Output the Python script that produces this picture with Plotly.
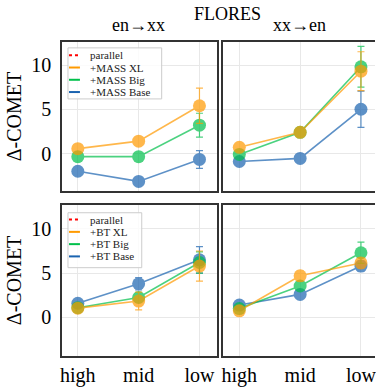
import plotly.graph_objects as go
from plotly.subplots import make_subplots

categories = ["high", "mid", "low"]

# Top row: MASS, bottom row: BT ; left: en->xx, right: xx->en
mass_en_xx_xl = [0.55, 1.4, 5.4]
mass_en_xx_xl_err = [0.3, 0.3, 2.0]
mass_en_xx_big = [-0.35, -0.35, 3.2]
mass_en_xx_big_err = [0.3, 0.3, 1.35]
mass_en_xx_base = [-2.0, -3.15, -0.67]
mass_en_xx_base_err = [0.3, 0.3, 1.0]

mass_xx_en_xl = [0.7, 2.4, 9.3]
mass_xx_en_xl_err = [0.3, 0.3, 2.2]
mass_xx_en_big = [-0.1, 2.4, 9.8]
mass_xx_en_big_err = [0.3, 0.3, 2.3]
mass_xx_en_base = [-0.9, -0.55, 5.0]
mass_xx_en_base_err = [0.3, 0.3, 2.05]

bt_en_xx_xl = [1.05, 1.85, 5.8]
bt_en_xx_xl_err = [0.3, 1.0, 1.7]
bt_en_xx_big = [1.1, 2.25, 6.2]
bt_en_xx_big_err = [0.3, 0.5, 1.2]
bt_en_xx_base = [1.6, 3.8, 6.5]
bt_en_xx_base_err = [0.3, 0.7, 1.5]

bt_xx_en_xl = [0.75, 4.7, 6.15]
bt_xx_en_xl_err = [0.3, 0.6, 0.6]
bt_xx_en_big = [1.0, 3.55, 7.3]
bt_xx_en_big_err = [0.3, 0.4, 1.2]
bt_xx_en_base = [1.4, 2.6, 5.8]
bt_xx_en_base_err = [0.3, 0.3, 0.6]

mass_names = ["+MASS XL", "+MASS Big", "+MASS Base"]
bt_names = ["+BT XL", "+BT Big", "+BT Base"]
parallel_name = "parallel"
column_titles = ["en→xx", "xx→en"]
main_title = "FLORES"
y_title = "Δ-COMET"

colors = ["#ff9a00", "#00c04b", "#1a63b0"]
red = "#ff0000"
FONT = "Liberation Serif"

W, H = 376, 387
L, R, T, B = 62, 0, 42, 25
PW, PH = W - L - R, H - T - B

def px_x(px):
    return (px - L) / PW

def px_y(py):
    return (H - B - py) / PH

fig = make_subplots(rows=2, cols=2, horizontal_spacing=0, vertical_spacing=0)

panels = {
    (1, 1): ([mass_en_xx_xl, mass_en_xx_big, mass_en_xx_base],
             [mass_en_xx_xl_err, mass_en_xx_big_err, mass_en_xx_base_err], mass_names),
    (1, 2): ([mass_xx_en_xl, mass_xx_en_big, mass_xx_en_base],
             [mass_xx_en_xl_err, mass_xx_en_big_err, mass_xx_en_base_err], mass_names),
    (2, 1): ([bt_en_xx_xl, bt_en_xx_big, bt_en_xx_base],
             [bt_en_xx_xl_err, bt_en_xx_big_err, bt_en_xx_base_err], bt_names),
    (2, 2): ([bt_xx_en_xl, bt_xx_en_big, bt_xx_en_base],
             [bt_xx_en_xl_err, bt_xx_en_big_err, bt_xx_en_base_err], bt_names),
}

for (r, c), (vals, errs, names) in panels.items():
    fig.add_hline(y=0, line=dict(color=red, width=2, dash="dot"), row=r, col=c)
    for i in [2, 1, 0]:
        fig.add_trace(go.Scatter(
            x=categories, y=vals[i], name=names[i], mode="lines+markers",
            line=dict(color=colors[i], width=1.6),
            marker=dict(color=colors[i], size=13),
            error_y=dict(type="data", array=errs[i], color=colors[i],
                         thickness=1.2, width=3.5),
            opacity=0.7, showlegend=False,
        ), row=r, col=c)

# domains in pixels
x_dom = {1: (62, 217), 2: (224, 376)}
y_dom = {1: (42, 194), 2: (208, 362)}
x_ranges = {1: [-0.26, 2.28], 2: [-0.26, 2.28 - 3 / 61]}
y_ranges = {1: [-4.25, 12.6], 2: [-4.35, 12.7]}

for r in (1, 2):
    for c in (1, 2):
        xd = [px_x(x_dom[c][0]), px_x(x_dom[c][1])]
        yd = [px_y(y_dom[r][1]), px_y(y_dom[r][0])]
        fig.update_xaxes(
            domain=xd, range=x_ranges[c], type="category",
            categoryorder="array", categoryarray=categories,
            showgrid=True, gridcolor="#e8e8e8", gridwidth=1,
            showline=True, linecolor="#333333", linewidth=1.5, mirror=True,
            ticks="", showticklabels=(r == 2), ticklabelstandoff=0,
            tickfont=dict(family=FONT, size=20, color="black"),
            zeroline=False, row=r, col=c)
        fig.update_yaxes(
            domain=yd, range=y_ranges[r], tickvals=[0, 5, 10],
            showgrid=True, gridcolor="#e8e8e8", gridwidth=1,
            showline=True, linecolor="#333333", linewidth=1.5,
            mirror=(c == 1), ticks="", showticklabels=(c == 1),
            ticklabelstandoff=5,
            tickfont=dict(family=FONT, size=20, color="black"),
            zeroline=False, row=r, col=c)
        if c == 1:
            fig.update_yaxes(title=dict(text=y_title, standoff=4,
                                        font=dict(family=FONT, size=20, color="black")),
                             row=r, col=c)

annotations = []
shapes = []

# titles
annotations.append(dict(text=main_title, x=px_x(228), y=px_y(26), xref="paper", yref="paper",
                        xanchor="center", yanchor="bottom", showarrow=False,
                        font=dict(family=FONT, size=18, color="black")))
annotations.append(dict(text=column_titles[0], x=px_x(139), y=px_y(37), xref="paper", yref="paper",
                        xanchor="center", yanchor="bottom", showarrow=False,
                        font=dict(family=FONT, size=18, color="black")))
annotations.append(dict(text=column_titles[1], x=px_x(300), y=px_y(37), xref="paper", yref="paper",
                        xanchor="center", yanchor="bottom", showarrow=False,
                        font=dict(family=FONT, size=18, color="black")))

# custom compact legends (matplotlib style)
legend_specs = [
    (mass_names, (68, 48, 162, 100), [55.5, 68, 80.5, 93]),
    (bt_names, (68, 216, 142, 272), [223, 235.5, 248, 260.5]),
]
for names, (bx0, by0, bx1, by1), rows in legend_specs:
    shapes.append(dict(type="rect", xref="paper", yref="paper",
                       x0=px_x(bx0), x1=px_x(bx1), y0=px_y(by1), y1=px_y(by0),
                       line=dict(color="#cccccc", width=1),
                       fillcolor="rgba(255,255,255,0.8)", layer="above"))
    labels = [parallel_name] + names
    lcolors = [red] + colors
    for k, (lab, col, ry) in enumerate(zip(labels, lcolors, rows)):
        shapes.append(dict(type="line", xref="paper", yref="paper",
                           x0=px_x(69), x1=px_x(80), y0=px_y(ry), y1=px_y(ry),
                           line=dict(color=col, width=2, dash="dot" if k == 0 else "solid"),
                           layer="above"))
        annotations.append(dict(text=lab, x=px_x(89), y=px_y(ry), xref="paper", yref="paper",
                                xanchor="left", yanchor="middle", showarrow=False,
                                borderpad=0,
                                font=dict(family=FONT, size=11, color="#222222")))

fig.update_layout(
    width=W, height=H,
    margin=dict(l=L, r=R, t=T, b=B, pad=0),
    paper_bgcolor="white", plot_bgcolor="white",
    showlegend=False,
    annotations=list(fig.layout.annotations) + annotations,
    shapes=list(fig.layout.shapes) + shapes,
    font=dict(family=FONT),
)

fig.write_html("out.html", config={"displayModeBar": False},
               post_script="document.body.style.margin='0';document.body.style.overflow='hidden';")
